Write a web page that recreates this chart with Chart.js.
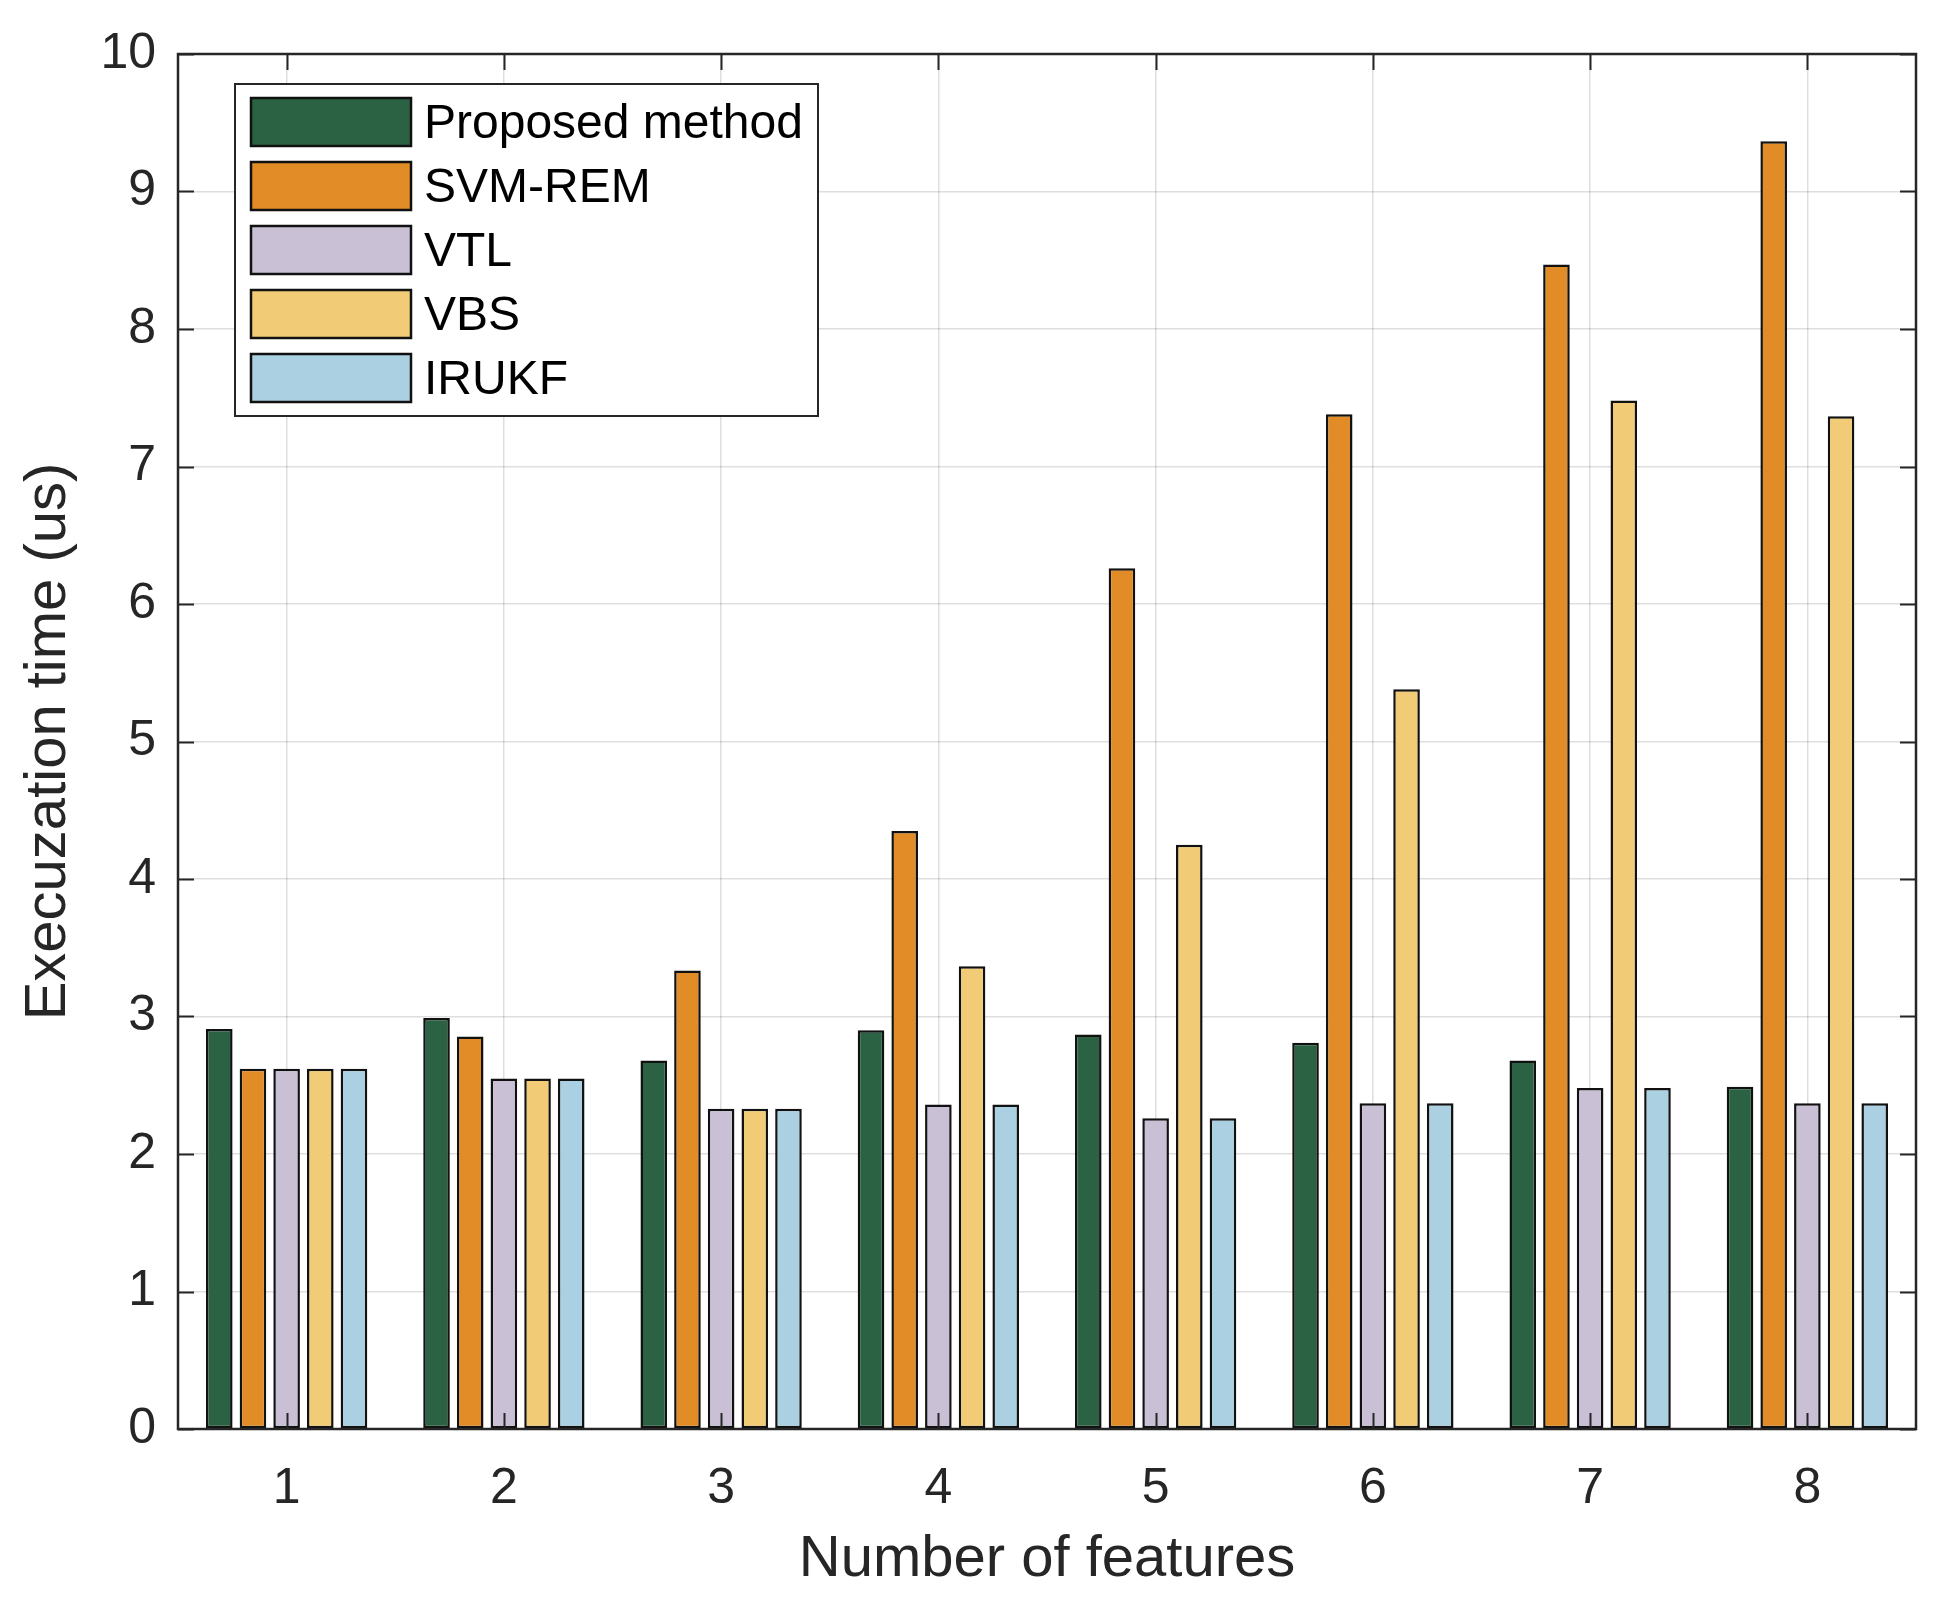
<!DOCTYPE html>
<html>
<head>
<meta charset="utf-8">
<script src="https://cdn.jsdelivr.net/npm/chart.js@4"></script>
<style>
  html, body { margin: 0; padding: 0; background: #fff; }
  canvas { display: block; }
</style>
</head>
<body>
<canvas id="c" width="1953" height="1599"></canvas>
<script>
const categories = ['1', '2', '3', '4', '5', '6', '7', '8'];
const proposed = [2.91, 2.99, 2.68, 2.90, 2.87, 2.81, 2.68, 2.49];
const svmRem   = [2.62, 2.855, 3.335, 4.35, 6.26, 7.38, 8.47, 9.365];
const vtl      = [2.62, 2.55, 2.33, 2.36, 2.26, 2.37, 2.48, 2.37];
const vbs      = [2.62, 2.55, 2.33, 3.365, 4.25, 5.38, 7.48, 7.365];
const irukf    = [2.62, 2.55, 2.33, 2.36, 2.26, 2.37, 2.48, 2.37];
const seriesNames = ['Proposed method', 'SVM-REM', 'VTL', 'VBS', 'IRUKF'];
const yTicks = [0, 1, 2, 3, 4, 5, 6, 7, 8, 9, 10];

const colors = ['#2b6243', '#e28c27', '#c9c0d6', '#f1cb76', '#abd0e1'];
const FONT = '"Liberation Sans", Arial, Helvetica, sans-serif';
const AXIS_COLOR = '#262626';

const whiteBg = {
  id: 'whiteBg',
  beforeDraw(chart) {
    const ctx = chart.ctx;
    ctx.save();
    ctx.fillStyle = '#fff';
    ctx.fillRect(0, 0, chart.width, chart.height);
    ctx.restore();
  }
};

const frameAndTicks = {
  id: 'frameAndTicks',
  afterDatasetsDraw(chart) {
    const ctx = chart.ctx;
    const a = chart.chartArea;
    const xs = chart.scales.x, ys = chart.scales.y;
    const L = 16;
    ctx.save();
    ctx.strokeStyle = AXIS_COLOR;
    ctx.lineWidth = 2;
    ctx.beginPath();
    ys.ticks.forEach(t => {
      const y = Math.round(ys.getPixelForValue(t.value)) + 0.5;
      ctx.moveTo(a.left, y); ctx.lineTo(a.left + L, y);
      ctx.moveTo(a.right, y); ctx.lineTo(a.right - L, y);
    });
    categories.forEach((c, i) => {
      const x = Math.round(xs.getPixelForValue(i)) + 0.5;
      ctx.moveTo(x, a.bottom); ctx.lineTo(x, a.bottom - L);
      ctx.moveTo(x, a.top); ctx.lineTo(x, a.top + L);
    });
    ctx.stroke();
    ctx.lineWidth = 2.5;
    ctx.strokeRect(a.left, a.top, a.right - a.left, a.bottom - a.top);
    ctx.restore();
  }
};

const boxLegend = {
  id: 'boxLegend',
  afterDraw(chart) {
    const ctx = chart.ctx;
    const bx = 235, by = 84, bw = 583, bh = 332;
    ctx.save();
    ctx.fillStyle = '#fff';
    ctx.fillRect(bx, by, bw, bh);
    ctx.strokeStyle = AXIS_COLOR;
    ctx.lineWidth = 2;
    ctx.strokeRect(bx, by, bw, bh);
    ctx.font = '48px ' + FONT;
    ctx.textBaseline = 'middle';
    ctx.textAlign = 'left';
    chart.data.datasets.forEach((ds, i) => {
      const sy = 98 + i * 64;
      ctx.fillStyle = ds.backgroundColor;
      ctx.fillRect(251, sy, 160, 48);
      ctx.strokeStyle = '#111';
      ctx.lineWidth = 2.5;
      ctx.strokeRect(251, sy, 160, 48);
      ctx.fillStyle = '#000';
      ctx.fillText(ds.label, 424, sy + 27);
    });
    ctx.restore();
  }
};

const seriesData = [proposed, svmRem, vtl, vbs, irukf];

new Chart(document.getElementById('c'), {
  type: 'bar',
  data: {
    labels: categories,
    datasets: seriesNames.map((name, i) => ({
      label: name,
      data: seriesData[i],
      backgroundColor: colors[i],
      borderColor: '#111',
      borderWidth: 2.5,
      borderSkipped: false,
      categoryPercentage: 0.775,
      barPercentage: 0.79
    }))
  },
  options: {
    responsive: false,
    animation: false,
    devicePixelRatio: 1,
    layout: { padding: { left: 0, right: 37, top: 54, bottom: 0 } },
    plugins: {
      legend: { display: false },
      tooltip: { enabled: false }
    },
    scales: {
      x: {
        offset: true,
        grid: { offset: false, color: 'rgba(0,0,0,0.13)', lineWidth: 1.5, drawTicks: false },
        border: { display: false },
        ticks: { color: AXIS_COLOR, font: { family: FONT, size: 50 }, padding: 30, maxRotation: 0 },
        title: { display: true, text: 'Number of features', color: AXIS_COLOR,
                 font: { family: FONT, size: 58 }, padding: { top: 0, bottom: 4 } },
        afterFit(scale) { scale.height = 170; }
      },
      y: {
        min: 0, max: 10,
        afterBuildTicks(scale) { scale.ticks = yTicks.map(v => ({ value: v })); },
        grid: { color: 'rgba(0,0,0,0.13)', lineWidth: 1.5, drawTicks: false },
        border: { display: false },
        ticks: { color: AXIS_COLOR, font: { family: FONT, size: 50 }, padding: 22 },
        title: { display: true, text: 'Execuzation time (us)', color: AXIS_COLOR,
                 font: { family: FONT, size: 58 }, padding: { top: 14, bottom: 0 } },
        afterFit(scale) { scale.width = 178; }
      }
    }
  },
  plugins: [whiteBg, frameAndTicks, boxLegend]
});
</script>
</body>
</html>
